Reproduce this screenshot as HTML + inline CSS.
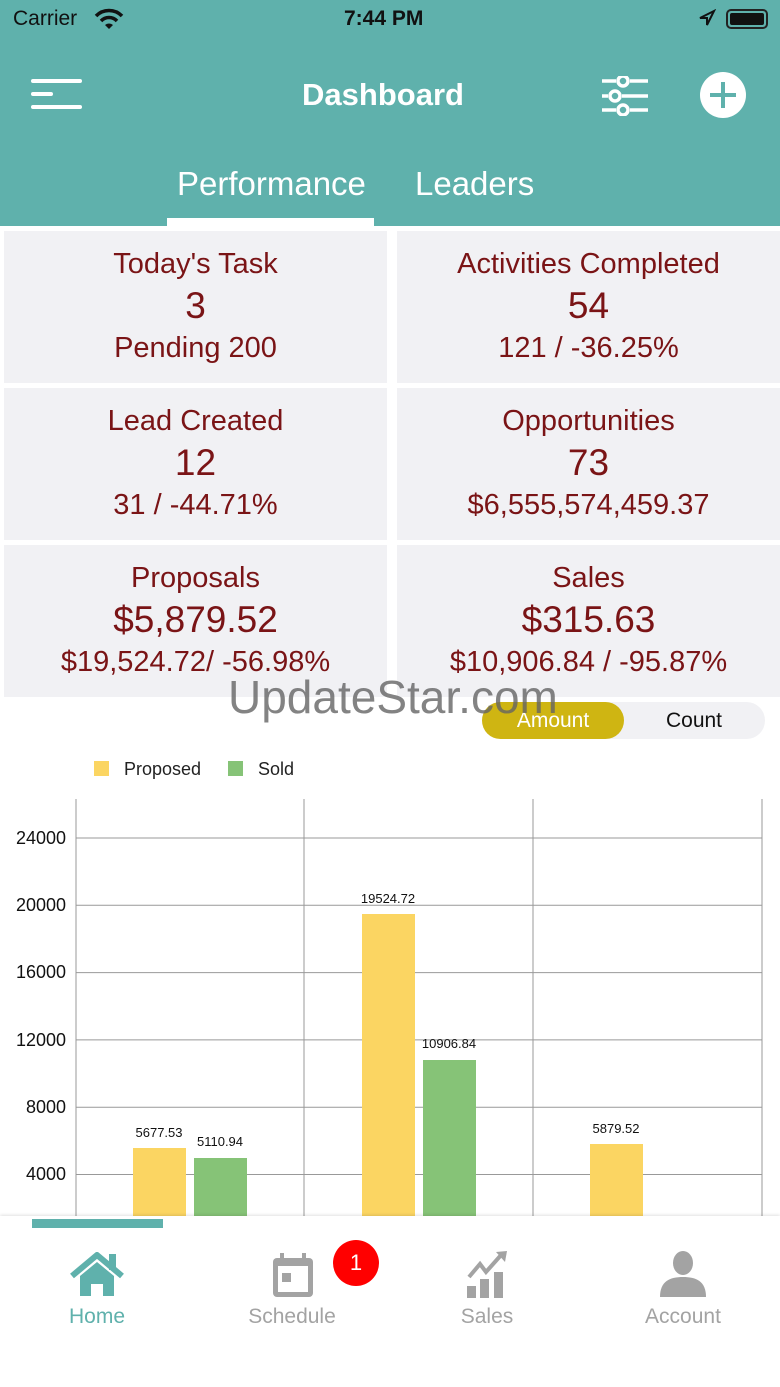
<!DOCTYPE html>
<html><head><meta charset="utf-8"><style>
*{margin:0;padding:0;box-sizing:border-box}
body{width:780px;height:1387px;position:relative;overflow:hidden;background:#fff;font-family:"Liberation Sans",sans-serif}
.abs{position:absolute}
.hdr{left:0;top:0;width:780px;height:226px;background:#5fb1ac}
.card{position:absolute;background:#f1f1f4;color:#7a1416;text-align:center;width:383px;height:152px}
.card .t{position:absolute;left:0;right:0;top:17px;font-size:29px}
.card .v{position:absolute;left:0;right:0;top:54px;font-size:37px}
.card .s{position:absolute;left:0;right:0;top:101px;font-size:29px}
.nav{position:absolute;top:1305px;font-size:21px;color:#a3a3a3;text-align:center;width:160px}
</style></head><body>
<div class="abs hdr"></div>
<div class="abs" style="left:13px;top:7px;font-size:21px;color:#111">Carrier</div>
<svg class="abs" style="left:94px;top:8px" width="30" height="22" viewBox="0 0 30 22"><path d="M2 8 A18 18 0 0 1 28 8" stroke="#111" stroke-width="3.5" fill="none"/><path d="M7 13 A11 11 0 0 1 23 13" stroke="#111" stroke-width="3.5" fill="none"/><path d="M11 17 L15 21 L19 17 A6 6 0 0 0 11 17Z" fill="#111"/></svg>
<div class="abs" style="left:344px;top:7px;font-size:21px;color:#111;font-weight:bold">7:44 PM</div>
<svg class="abs" style="left:698px;top:9px" width="18" height="18"><path d="M16 2 L2 9 L9 9 L9 16Z" fill="none" stroke="#111" stroke-width="2"/></svg>
<div class="abs" style="left:726px;top:9px;width:42px;height:20px;border:2px solid #222;border-radius:5px;padding:2px"><div style="background:#111;width:100%;height:100%;border-radius:2px"></div></div>
<div class="abs" style="left:31px;top:79px;width:51px;height:4px;background:#fff;border-radius:2px"></div>
<div class="abs" style="left:31px;top:92px;width:22px;height:4px;background:#fff;border-radius:2px"></div>
<div class="abs" style="left:31px;top:105px;width:51px;height:4px;background:#fff;border-radius:2px"></div>
<div class="abs" style="left:0;width:766px;top:77px;text-align:center;font-size:31px;color:#fff;font-weight:bold">Dashboard</div>
<svg class="abs" style="left:600px;top:76px" width="50" height="40"><g stroke="#fff" stroke-width="3.5" fill="none"><line x1="2" y1="5" x2="16" y2="5"/><line x1="2" y1="20" x2="8" y2="20"/><line x1="22" y1="20" x2="48" y2="20"/><line x1="2" y1="34" x2="16" y2="34"/><line x1="30" y1="5" x2="48" y2="5"/><line x1="30" y1="34" x2="48" y2="34"/><circle cx="23" cy="5" r="5"/><circle cx="15" cy="20" r="5"/><circle cx="23" cy="34" r="5"/></g></svg>
<div class="abs" style="left:700px;top:72px;width:46px;height:46px;border-radius:50%;background:#fff"></div>
<div class="abs" style="left:710px;top:93px;width:26px;height:4px;background:#5fb1ac"></div>
<div class="abs" style="left:721px;top:82px;width:4px;height:26px;background:#5fb1ac"></div>
<div class="abs" style="left:177px;top:165px;font-size:33px;color:#fff">Performance</div>
<div class="abs" style="left:415px;top:165px;font-size:33px;color:#fff">Leaders</div>
<div class="abs" style="left:167px;top:218px;width:207px;height:8px;background:#fff"></div>

<div class="card" style="left:4px;top:231px"><div class="t">Today's Task</div><div class="v">3</div><div class="s">Pending 200</div></div>
<div class="card" style="left:397px;top:231px"><div class="t">Activities Completed</div><div class="v">54</div><div class="s">121 / -36.25%</div></div>
<div class="card" style="left:4px;top:388px"><div class="t">Lead Created</div><div class="v">12</div><div class="s">31 / -44.71%</div></div>
<div class="card" style="left:397px;top:388px"><div class="t">Opportunities</div><div class="v">73</div><div class="s">$6,555,574,459.37</div></div>
<div class="card" style="left:4px;top:545px"><div class="t">Proposals</div><div class="v">$5,879.52</div><div class="s">$19,524.72/ -56.98%</div></div>
<div class="card" style="left:397px;top:545px"><div class="t">Sales</div><div class="v">$315.63</div><div class="s">$10,906.84 / -95.87%</div></div>

<div class="abs" style="left:482px;top:702px;width:283px;height:37px;border-radius:19px;background:#f1f1f4"></div>
<div class="abs" style="left:482px;top:702px;width:142px;height:37px;border-radius:19px;background:#cfb512;color:#fff;font-size:21px;text-align:center;line-height:37px">Amount</div>
<div class="abs" style="left:624px;top:702px;width:140px;height:37px;color:#111;font-size:21px;text-align:center;line-height:37px">Count</div>
<div class="abs" style="left:228px;top:670px;font-size:46px;color:rgba(100,100,100,0.8)">UpdateStar.com</div>

<svg class="abs" style="left:0;top:740px" width="780" height="480">
<g font-family="Liberation Sans" font-size="18" fill="#222">
<rect x="94" y="21" width="15" height="15" fill="#fbd562"/><text x="124" y="35">Proposed</text>
<rect x="228" y="21" width="15" height="15" fill="#86c377"/><text x="258" y="35">Sold</text>
</g>
<g stroke="#999" stroke-width="1">
<line x1="76" y1="59" x2="76" y2="480"/><line x1="304" y1="59" x2="304" y2="480"/><line x1="533" y1="59" x2="533" y2="480"/><line x1="762" y1="59" x2="762" y2="480"/>
<line x1="76" y1="98" x2="762" y2="98"/><line x1="76" y1="165.3" x2="762" y2="165.3"/><line x1="76" y1="232.6" x2="762" y2="232.6"/><line x1="76" y1="299.9" x2="762" y2="299.9"/><line x1="76" y1="367.2" x2="762" y2="367.2"/><line x1="76" y1="434.5" x2="762" y2="434.5"/>
</g>
<g font-family="Liberation Sans" font-size="18" fill="#111" text-anchor="end">
<text x="66" y="104">24000</text><text x="66" y="171">20000</text><text x="66" y="238">16000</text><text x="66" y="306">12000</text><text x="66" y="373">8000</text><text x="66" y="440">4000</text>
</g>
<g>
<rect x="133" y="408" width="53" height="80" fill="#fbd562"/>
<rect x="194" y="418" width="53" height="70" fill="#86c377"/>
<rect x="362" y="174" width="53" height="310" fill="#fbd562"/>
<rect x="423" y="320" width="53" height="160" fill="#86c377"/>
<rect x="590" y="404" width="53" height="80" fill="#fbd562"/>
</g>
<g font-family="Liberation Sans" font-size="13" fill="#111" text-anchor="middle">
<text x="159" y="397">5677.53</text><text x="220" y="406">5110.94</text><text x="388" y="163">19524.72</text><text x="449" y="308">10906.84</text><text x="616" y="393">5879.52</text>
</g>
</svg>

<div class="abs" style="left:0;top:1216px;width:780px;height:171px;background:#fff;box-shadow:0 -1px 3px rgba(0,0,0,0.12)"></div>
<div class="abs" style="left:32px;top:1219px;width:131px;height:9px;background:#5fb1ac"></div>
<svg class="abs" style="left:69px;top:1252px" width="56" height="46"><path d="M3 24 L28 3 L53 24" stroke="#5fb1ac" stroke-width="6" fill="none" stroke-linejoin="round"/><rect x="40" y="2" width="7" height="16" fill="#5fb1ac"/><path d="M11 24 L28 10 L45 24 L45 44 L34 44 L34 32 L22 32 L22 44 L11 44Z" fill="#5fb1ac"/></svg>
<div class="nav" style="left:17px;color:#5fb1ac">Home</div>
<svg class="abs" style="left:272px;top:1252px" width="42" height="46"><rect x="1" y="6" width="40" height="39" rx="4" fill="#a3a3a3"/><rect x="6" y="14" width="30" height="26" fill="#fff"/><rect x="8" y="1" width="4" height="8" fill="#a3a3a3"/><rect x="30" y="1" width="4" height="8" fill="#a3a3a3"/><rect x="10" y="21" width="9" height="9" fill="#a3a3a3"/></svg>
<div class="nav" style="left:212px">Schedule</div>
<div class="abs" style="left:333px;top:1240px;width:46px;height:46px;border-radius:50%;background:#f00;color:#fff;font-size:22px;text-align:center;line-height:46px">1</div>
<svg class="abs" style="left:466px;top:1250px" width="46" height="48"><path d="M3 27 L14 14 L20 22 L36 4" stroke="#a3a3a3" stroke-width="4" fill="none"/><path d="M30 2 L41 1 L39 12Z" fill="#a3a3a3"/><rect x="1" y="36" width="9" height="12" fill="#a3a3a3"/><rect x="14" y="29" width="9" height="19" fill="#a3a3a3"/><rect x="28" y="22" width="9" height="26" fill="#a3a3a3"/></svg>
<div class="nav" style="left:407px">Sales</div>
<svg class="abs" style="left:658px;top:1251px" width="50" height="47"><ellipse cx="25" cy="12" rx="10" ry="12" fill="#a3a3a3"/><path d="M2 46 C2 30 12 26 25 26 C38 26 48 30 48 46Z" fill="#a3a3a3"/></svg>
<div class="nav" style="left:603px">Account</div>
</body></html>
